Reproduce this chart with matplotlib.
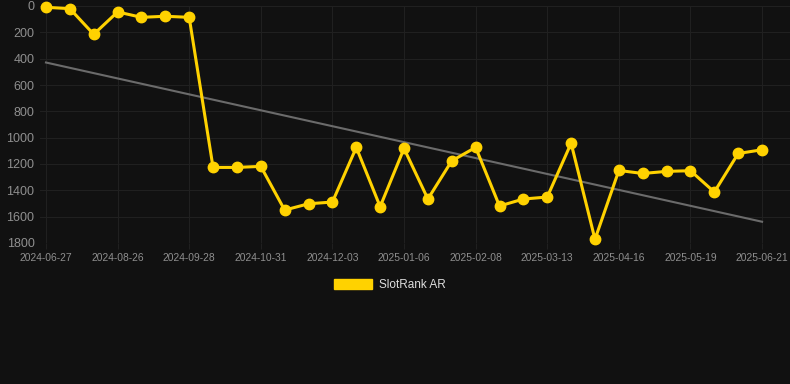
import numpy as np
import matplotlib
matplotlib.use("Agg")
import matplotlib.pyplot as plt
from matplotlib.patches import Patch

plt.rcParams['font.family'] = ['Liberation Sans', 'DejaVu Sans']

# every third point carries a date label
tick_labels = ['2024-06-27', '2024-08-26', '2024-09-28', '2024-10-31', '2024-12-03',
               '2025-01-06', '2025-02-08', '2025-03-13', '2025-04-16', '2025-05-19',
               '2025-06-21']

rank = [10, 20, 215, 45, 86, 78, 86, 1226, 1226, 1218,
        1550, 1502, 1489, 1074, 1524, 1082, 1466, 1176, 1074, 1519,
        1466, 1451, 1042, 1772, 1249, 1272, 1256, 1251, 1413, 1120,
        1092]

bg = '#111111'
gold = '#FFD200'

fig = plt.figure(figsize=(7.9, 3.84), dpi=100, facecolor=bg)
ax = fig.add_axes([40 / 790, 1 - 243 / 384, 750 / 790, 237 / 384], facecolor=bg)

x = np.arange(len(rank))

# linear trend of the series
k, b = np.polyfit(x, rank, 1)
ax.plot(x, k * x + b, color='#6b6b6b', lw=1.5, zorder=2)

ax.plot(x, rank, color=gold, lw=2.2, marker='o', ms=7.5, zorder=3, clip_on=False)

ax.set_ylim(1800, 0)
ax.set_yticks(range(0, 1801, 200))
ax.set_xlim(-0.25, 31.17)
ax.set_xticks(x[::3])
ax.set_xticklabels(tick_labels)

ax.grid(True, color='#202020', lw=0.8)
ax.set_axisbelow(True)
for s in ax.spines.values():
    s.set_visible(False)
ax.tick_params(axis='y', colors='#8f8f8f', labelsize=9, length=0, pad=4)
ax.tick_params(axis='x', colors='#8f8f8f', labelsize=7.4, length=4, pad=3, color='#202020')

fig.legend(handles=[Patch(facecolor=gold, edgecolor=gold, label='SlotRank AR')],
           loc='center', bbox_to_anchor=(390 / 790, 1 - 285 / 384), frameon=False,
           handlelength=3.2, handleheight=0.9, fontsize=8.5, labelcolor='#dddddd',
           handletextpad=0.6)

fig.savefig('out.png', dpi=100, facecolor=bg)
